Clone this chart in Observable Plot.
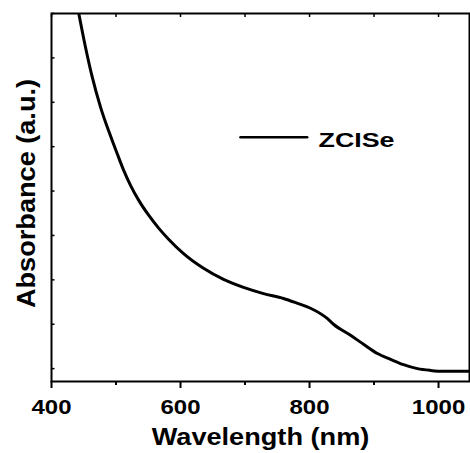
<!DOCTYPE html>
<html>
<head>
<meta charset="utf-8">
<script src="https://cdn.jsdelivr.net/npm/d3@7"></script>
<script src="https://cdn.jsdelivr.net/npm/@observablehq/plot@0.6"></script>
<style>
  html, body { margin: 0; padding: 0; background: #fff; }
  #chart { width: 470px; height: 453px; }
</style>
</head>
<body>
<div id="chart"></div>
<script>
// ---- data ----
const wavelength = [442.3, 452.7, 463.1, 476.0, 494.1, 501.9, 512.1, 522.5, 535.3, 550.9, 566.4, 581.9, 604.7, 635.7, 666.7, 697.7, 728.7, 759.7, 781.4, 801.6, 827.4, 837.2, 863.6, 883.7, 905.4, 925.6, 945.7, 967.4, 987.6, 1007.8, 1048];
const absorbance = [0.800, 0.724, 0.657, 0.589, 0.514, 0.484, 0.446, 0.413, 0.379, 0.345, 0.316, 0.291, 0.259, 0.226, 0.201, 0.183, 0.169, 0.158, 0.147, 0.136, 0.113, 0.100, 0.075, 0.055, 0.034, 0.021, 0.009, 0.000, -0.004, -0.006, -0.006];
const seriesNames = ["ZCISe"];
const xMajorTicks = [400, 600, 800, 1000];
const xMinorTicks = [500, 700, 900];
const yTicks = [0, 0.1, 0.2, 0.3, 0.4, 0.5, 0.6, 0.7, 0.8];
const xTitle = ["Wavelength (nm)"];
const yTitle = ["Absorbance (a.u.)"];

const data = wavelength.map((w, i) => ({w, a: absorbance[i]}));
const FONT = "'Liberation Sans', Arial, Helvetica, sans-serif";

const plot = Plot.plot({
  width: 470,
  height: 453,
  marginLeft: 51,
  marginRight: 1,
  marginTop: 13,
  marginBottom: 72,
  style: {fontFamily: FONT, fontWeight: "bold", color: "#000", background: "#fff"},
  x: {domain: [400, 1048], axis: null},
  y: {domain: [-0.029, 0.8], axis: null},
  marks: [
    Plot.line(data, {x: "w", y: "a", stroke: "#000", strokeWidth: 3, curve: "monotone-x", clip: true}),
    Plot.frame({stroke: "#000", strokeWidth: 2}),
    Plot.axisX(xMajorTicks, {anchor: "bottom", tickSize: 7, tickPadding: 12, strokeWidth: 2, fontSize: 19.5, tickFormat: d => String(d), label: null}),
    Plot.axisX(xMinorTicks, {anchor: "bottom", tickSize: 4, strokeWidth: 2, tickFormat: () => "", label: null}),
    Plot.axisX(xMajorTicks.concat(xMinorTicks), {anchor: "top", tickSize: -3, strokeWidth: 1.5, tickFormat: () => "", label: null}),
    Plot.axisY(yTicks, {anchor: "left", tickSize: -3.5, strokeWidth: 1.5, tickFormat: () => "", label: null}),
    Plot.text(xTitle, {text: d => d, frameAnchor: "bottom", dy: 63, lineAnchor: "bottom", textAnchor: "middle", fontSize: 23, fill: "#000"}),
    Plot.text(yTitle, {text: d => d, frameAnchor: "left", dx: -16.7, dy: -4, rotate: -90, lineAnchor: "bottom", textAnchor: "middle", fontSize: 25.6, fill: "#000"}),
    Plot.vector(seriesNames, {frameAnchor: "top-left", dx: 189, dy: 123.7, length: 66.7, rotate: 90, anchor: "start", stroke: "#000", strokeWidth: 2.5,
      shape: {draw(context, l) { context.moveTo(0, 0); context.lineTo(0, -l); }}}),
    Plot.text(seriesNames, {text: d => d, frameAnchor: "top-left", dx: 267, dy: 133.5, textAnchor: "start", lineAnchor: "bottom", fontSize: 20, fill: "#000"})
  ]
});

document.getElementById("chart").appendChild(plot);

// the reference typeface is wider than Arial: stretch texts to the measured widths
function stretchFactor(s) {
  if (/^\d+$/.test(s)) return 1.23;
  if (xTitle.includes(s)) return 1.18;
  if (yTitle.includes(s)) return 1.06;
  if (seriesNames.includes(s)) return 1.34;
  return 1;
}
plot.querySelectorAll("text").forEach(t => {
  const s = t.textContent.trim();
  const f = stretchFactor(s);
  if (!s || f === 1) return;
  const len = t.getComputedTextLength();
  if (len > 0) {
    t.setAttribute("textLength", (len * f).toFixed(1));
    t.setAttribute("lengthAdjust", "spacingAndGlyphs");
  }
});
</script>
</body>
</html>
